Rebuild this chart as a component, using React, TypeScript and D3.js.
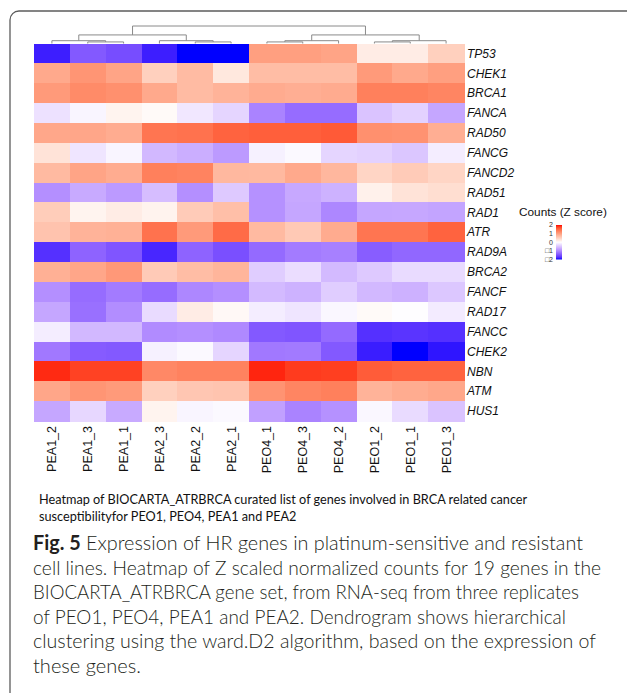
import React from "react";
import * as d3 from "d3";

// Samples in dendrogram (leaf) order
const samples = [
  "PEA1_2", "PEA1_3", "PEA1_1", "PEA2_3", "PEA2_2", "PEA2_1",
  "PEO4_1", "PEO4_3", "PEO4_2", "PEO1_2", "PEO1_1", "PEO1_3",
];

const genes = [
  "TP53", "CHEK1", "BRCA1", "FANCA", "RAD50", "FANCG", "FANCD2", "RAD51", "RAD1",
  "ATR", "RAD9A", "BRCA2", "FANCF", "RAD17", "FANCC", "CHEK2", "NBN", "ATM", "HUS1",
];

// Z scaled normalized counts, one row per gene, columns follow `samples`
const zScores: number[][] = [
  [-1.87, -1.42, -1.52, -1.87, -2.1, -2.1, 1.0, 1.0, 0.95, 0.2, 0.2, 0.5], // TP53
  [0.9, 1.1, 0.95, 0.5, 0.72, 0.25, 0.7, 0.7, 0.7, 1.05, 0.9, 1.0], // CHEK1
  [1.05, 1.2, 1.15, 0.9, 0.72, 0.8, 0.88, 0.85, 0.88, 1.3, 1.3, 1.25], // BRCA1
  [-0.25, -0.08, 0.12, 0.05, -0.2, -0.35, -1.05, -1.25, -1.25, -0.5, -0.38, -0.75], // FANCA
  [0.92, 0.93, 0.87, 1.4, 1.42, 1.55, 1.58, 1.58, 1.62, 1.15, 1.13, 0.85], // RAD50
  [0.3, -0.22, -0.08, -0.6, -0.68, -0.85, -0.12, -0.05, -0.35, -0.38, -0.48, -0.15], // FANCG
  [0.73, 0.95, 0.87, 1.3, 1.27, 0.75, 0.74, 0.9, 0.76, 0.45, 0.55, 0.45], // FANCD2
  [-0.95, -0.72, -0.85, -0.55, -0.95, -0.45, -0.93, -0.73, -0.65, 0.15, 0.3, 0.35], // RAD51
  [0.53, 0.12, 0.2, 0.13, 0.55, 0.68, -0.93, -0.75, -1.02, -0.75, -0.74, -0.77], // RAD1
  [0.63, 0.8, 0.82, 1.42, 1.05, 1.48, 0.73, 0.57, 0.88, 1.4, 1.4, 1.55], // ATR
  [-1.75, -1.33, -1.45, -1.82, -1.33, -1.5, -1.27, -1.12, -1.08, -1.38, -1.3, -1.3], // RAD9A
  [0.83, 0.93, 1.07, 0.56, 0.7, 0.78, -0.42, -0.28, -0.58, -0.45, -0.3, -0.3], // BRCA2
  [-0.95, -1.25, -1.12, -1.25, -1.02, -0.95, -0.58, -0.65, -0.42, -0.6, -0.66, -0.47], // FANCF
  [-0.75, -1.22, -0.97, -0.3, 0.2, 0.07, -0.15, -0.22, -0.07, 0.05, -0.02, -0.17], // RAD17
  [-0.15, -0.6, -0.6, -0.98, -0.95, -1.0, -1.42, -1.45, -1.27, -1.75, -1.72, -1.75], // FANCC
  [-1.15, -1.4, -1.42, -0.12, -0.05, -0.35, -1.15, -1.13, -1.42, -1.88, -2.1, -1.92], // CHEK2
  [1.9, 1.78, 1.78, 1.22, 1.28, 1.28, 1.92, 1.82, 1.8, 1.6, 1.55, 1.55], // NBN
  [0.93, 1.1, 1.05, 0.5, 0.6, 0.62, 1.12, 1.25, 1.3, 0.8, 0.87, 0.92], // ATM
  [-0.75, -0.33, -0.72, 0.12, -0.08, -0.05, -0.8, -1.05, -0.93, -0.07, -0.3, -0.5], // HUS1
];

// Column clustering (ward.D2), merge heights relative to the root
type DNode = { h?: number; leaf?: string; children?: DNode[] };
const columnTree: DNode = {
  h: 1,
  children: [
    {
      h: 0.49,
      children: [
        { h: 0.16, children: [{ leaf: "PEA1_2" }, { h: 0.09, children: [{ leaf: "PEA1_3" }, { leaf: "PEA1_1" }] }] },
        { h: 0.16, children: [{ leaf: "PEA2_3" }, { h: 0.09, children: [{ leaf: "PEA2_2" }, { leaf: "PEA2_1" }] }] },
      ],
    },
    {
      h: 0.49,
      children: [
        { h: 0.16, children: [{ h: 0.09, children: [{ leaf: "PEO4_1" }, { leaf: "PEO4_3" }] }, { leaf: "PEO4_2" }] },
        { h: 0.16, children: [{ h: 0.09, children: [{ leaf: "PEO1_2" }, { leaf: "PEO1_1" }] }, { leaf: "PEO1_3" }] },
      ],
    },
  ],
};

const legendTicks = [2, 1, 0, -1, -2];

const subtitleLines = [
  "Heatmap of BIOCARTA_ATRBRCA curated list of genes involved in BRCA related cancer",
  "susceptibilityfor PEO1, PEO4, PEA1 and PEA2",
];

const captionLines = [
  "Expression of HR genes in platinum-sensitive and resistant",
  "cell lines. Heatmap of Z scaled normalized counts for 19 genes in the",
  "BIOCARTA_ATRBRCA gene set, from RNA-seq from three replicates",
  "of PEO1, PEO4, PEA1 and PEA2. Dendrogram shows hierarchical",
  "clustering using the ward.D2 algorithm, based on the expression of",
  "these genes.",
];
const captionWidths = [550, 568, 546, 533, 563, 108];

const W = 627;
const H = 693;
const heat = { left: 34, right: 464, top: 43.5, bottom: 421 };
const dendroTop = 26;

export default function App() {
  const x = d3.scaleBand<string>().domain(samples).range([heat.left, heat.right]);
  const y = d3.scaleBand<string>().domain(genes).range([heat.top, heat.bottom]);
  const color = d3
    .scaleLinear<string>()
    .domain([-2, 0, 2])
    .range(["#0000FF", "#FFFFFF", "#FF0000"])
    .interpolate(d3.interpolateLab)
    .clamp(true);

  // Dendrogram geometry
  const hy = d3.scaleLinear().domain([0, 1]).range([heat.top, dendroTop]);
  const root = d3.hierarchy<DNode>(columnTree);
  const px = new Map<any, number>();
  root.eachAfter((n) => {
    if (n.children) px.set(n, d3.mean(n.children, (c) => px.get(c)!)!);
    else px.set(n, x(n.data.leaf!)! + x.bandwidth() / 2);
  });
  const segs: string[] = [];
  root.each((n) => {
    if (!n.children) return;
    const yy = hy(n.data.h!);
    const xsC = n.children.map((c) => px.get(c)!);
    segs.push(`M${d3.min(xsC)},${yy}H${d3.max(xsC)}`);
    n.children.forEach((c) => {
      segs.push(`M${px.get(c)},${yy}V${hy(c.data.h ?? 0)}`);
    });
  });

  // Legend
  const ly = d3.scaleLinear().domain([-2, 2]).range([259.5, 225]);
  const gradStops = d3.range(0, 21).map((i) => -2 + (4 * i) / 20);

  return (
    <svg
      width={W}
      height={H}
      viewBox={`0 0 ${W} ${H}`}
      style={{ position: "absolute", left: 0, top: 0, background: "#fff" }}
    >
      <defs>
        <linearGradient id="zgrad" x1="0" y1="1" x2="0" y2="0">
          {gradStops.map((v, i) => (
            <stop key={i} offset={`${(i / 20) * 100}%`} stopColor={color(v)} />
          ))}
        </linearGradient>
      </defs>
      <rect x={0} y={0} width={W} height={H} fill="#fff" />
      <rect x={10} y={11} width={700} height={720} rx={9} fill="none" stroke="#5c5c5c" strokeWidth={1.3} />

      {/* heatmap cells */}
      <g shapeRendering="crispEdges">
        {genes.map((g, r) =>
          samples.map((s, c) => (
            <rect
              key={`${g}-${s}`}
              x={x(s)}
              y={y(g)}
              width={x.bandwidth() + 0.5}
              height={y.bandwidth() + 0.5}
              fill={color(zScores[r][c])}
            />
          ))
        )}
      </g>

      {/* column dendrogram */}
      <path d={segs.join("")} fill="none" stroke="#8a8a8a" strokeWidth={1} />

      {/* row labels */}
      <g fontFamily="'Liberation Sans', Arial, sans-serif" fontStyle="italic" fontSize={12} fill="#111">
        {genes.map((g) => (
          <text key={g} x={heat.right + 3} y={y(g)! + y.bandwidth() / 2} dy="0.35em">
            {g}
          </text>
        ))}
      </g>

      {/* column labels */}
      <g fontFamily="'Liberation Sans', Arial, sans-serif" fontSize={12.5} fill="#111">
        {samples.map((s) => (
          <text
            key={s}
            transform={`translate(${x(s)! + x.bandwidth() / 2},${heat.bottom + 5}) rotate(-90)`}
            textAnchor="end"
            dy="0.36em"
          >
            {s}
          </text>
        ))}
      </g>

      {/* legend */}
      <text x={519} y={216} fontFamily="'Liberation Sans', Arial, sans-serif" fontSize={11.8} fill="#111">
        Counts (Z score)
      </text>
      <rect x={556} y={ly(2)} width={6} height={ly(-2) - ly(2)} fill="url(#zgrad)" />
      <g fontFamily="'Liberation Sans', Arial, sans-serif" fontSize={7} fill="#333" textAnchor="end">
        {legendTicks.map((t) => (
          <text key={t} x={553} y={ly(t)} dy="0.35em">
            {t < 0 ? `\u25A1${Math.abs(t)}` : String(t)}
          </text>
        ))}
      </g>

      {/* figure subtitle */}
      <g fontFamily="Lato, 'Open Sans', sans-serif" fontSize={12.7} fill="#111">
        {subtitleLines.map((l, i) => (
          <text key={i} x={39} y={504 + i * 16.5}>
            {l}
          </text>
        ))}
      </g>

      {/* figure caption */}
      <g fontFamily="Lato, 'Open Sans', sans-serif" fontSize={20} fontWeight={300} fill="#231f20">
        {captionLines.map((l, i) => (
          <text
            key={i}
            x={33}
            y={550 + i * 24.6}
            textLength={captionWidths[i]}
            lengthAdjust="spacingAndGlyphs"
          >
            {i === 0 ? (
              <>
                <tspan fontWeight={700}>Fig. 5</tspan>
                <tspan>{"  " + l}</tspan>
              </>
            ) : (
              l
            )}
          </text>
        ))}
      </g>
    </svg>
  );
}
